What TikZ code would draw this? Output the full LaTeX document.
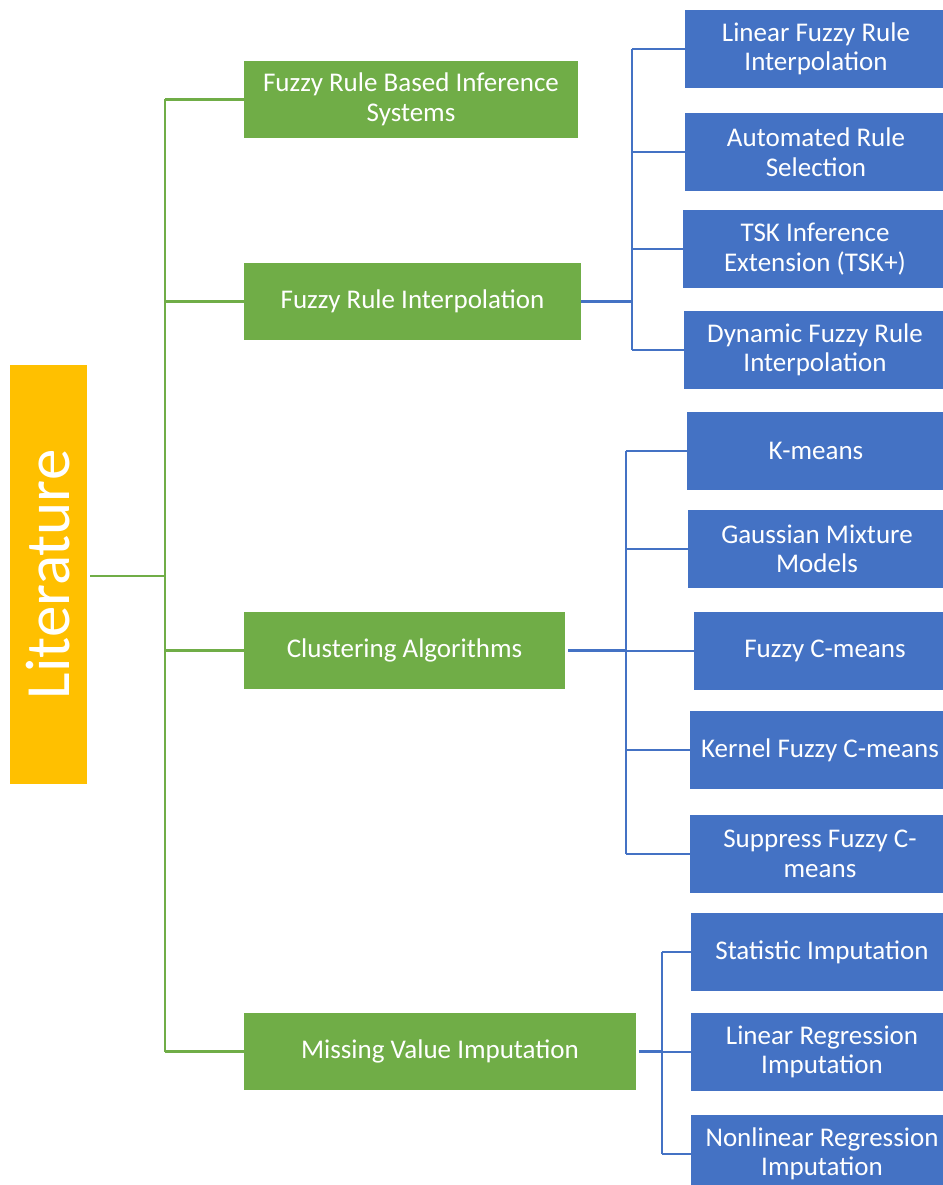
\documentclass[tikz,border=0pt]{standalone}
\usepackage{fontspec}
\setmainfont{Carlito}
\definecolor{litgold}{HTML}{FFC000}
\definecolor{topgreen}{HTML}{70AD47}
\definecolor{subblue}{HTML}{4472C4}
\begin{document}
\begin{tikzpicture}[x=1pt,y=-1pt,
  box/.style={anchor=north west,inner sep=0pt,outer sep=0pt,text=white,align=center,
    font=\fontsize{27}{29.5}\selectfont},
  greenbox/.style={box,fill=topgreen,minimum height=77},
  bluebox/.style={box,fill=subblue,minimum height=78},
  gline/.style={draw=topgreen,line width=2.2pt},
  bline/.style={draw=subblue,line width=2.2pt}]
\useasboundingbox (0,0) rectangle (942,1185);

% root
\node[box,fill=litgold,minimum width=77,minimum height=419] (lit) at (10,365) {};
\node[rotate=90,text=white,font=\fontsize{63}{70}\selectfont] (littext) at (lit.center) {Literature};

% main topics
\node[greenbox,minimum width=334] (frbis) at (244,61) {Fuzzy Rule Based Inference\\Systems};
\node[greenbox,minimum width=337] (fri) at (244,263) {Fuzzy Rule Interpolation};
\node[greenbox,minimum width=321] (clu) at (244,612) {Clustering Algorithms};
\node[greenbox,minimum width=392] (mvi) at (244,1013) {Missing Value Imputation};

% interpolation methods
\node[bluebox,minimum width=262] (lfri) at (685,10) {Linear Fuzzy Rule\\Interpolation};
\node[bluebox,minimum width=262] (ars) at (685,113) {Automated Rule\\Selection};
\node[bluebox,minimum width=264] (tsk) at (683,210) {TSK Inference\\Extension (TSK+)};
\node[bluebox,minimum width=262] (dfri) at (684,311) {Dynamic Fuzzy Rule\\Interpolation};

% clustering methods
\node[bluebox,minimum width=258] (km) at (687,412) {K-means};
\node[bluebox,minimum width=258] (gmm) at (688,510) {Gaussian Mixture\\Models};
\node[bluebox,minimum width=262] (fcm) at (694,612) {Fuzzy C-means};
\node[bluebox,minimum width=260] (kfcm) at (690,711) {Kernel Fuzzy C-means};
\node[bluebox,minimum width=260] (sfcm) at (690,815) {Suppress Fuzzy C-\\means};

% imputation methods
\node[bluebox,minimum width=262] (si) at (691,913) {Statistic Imputation};
\node[bluebox,minimum width=262] (lri) at (691,1013) {Linear Regression\\Imputation};
\node[bluebox,minimum width=262] (nri) at (691,1115) {Nonlinear Regression\\Imputation};

% trunk positions
\coordinate (gx) at (165,0);
\coordinate (b1x) at (632,0);
\coordinate (b2x) at (626,0);
\coordinate (b3x) at (662,0);

% root to topics
\draw[gline] (lit.east) ++(3,1.5) coordinate (litout) -- (litout -| gx);
\draw[gline] (frbis.west -| gx) -- (mvi.west -| gx);
\foreach \n in {frbis,fri,clu,mvi}
  \draw[gline] (\n.west -| gx) -- (\n.west);

% interpolation branch
\draw[bline] (fri.east) -- (fri.east -| b1x);
\draw[bline] (lfri.west -| b1x) -- (dfri.west -| b1x);
\foreach \n in {lfri,ars,tsk,dfri}
  \draw[bline] (\n.west -| b1x) -- (\n.west);

% clustering branch
\draw[bline] (clu.east) ++(3,0) coordinate (cluout) -- (cluout -| b2x);
\draw[bline] (km.west -| b2x) -- (sfcm.west -| b2x);
\foreach \n in {km,gmm,fcm,kfcm,sfcm}
  \draw[bline] (\n.west -| b2x) -- (\n.west);

% imputation branch
\draw[bline] (mvi.east) ++(3,0) coordinate (mviout) -- (mviout -| b3x);
\draw[bline] (si.west -| b3x) -- (nri.west -| b3x);
\foreach \n in {si,lri,nri}
  \draw[bline] (\n.west -| b3x) -- (\n.west);
\end{tikzpicture}
\end{document}
